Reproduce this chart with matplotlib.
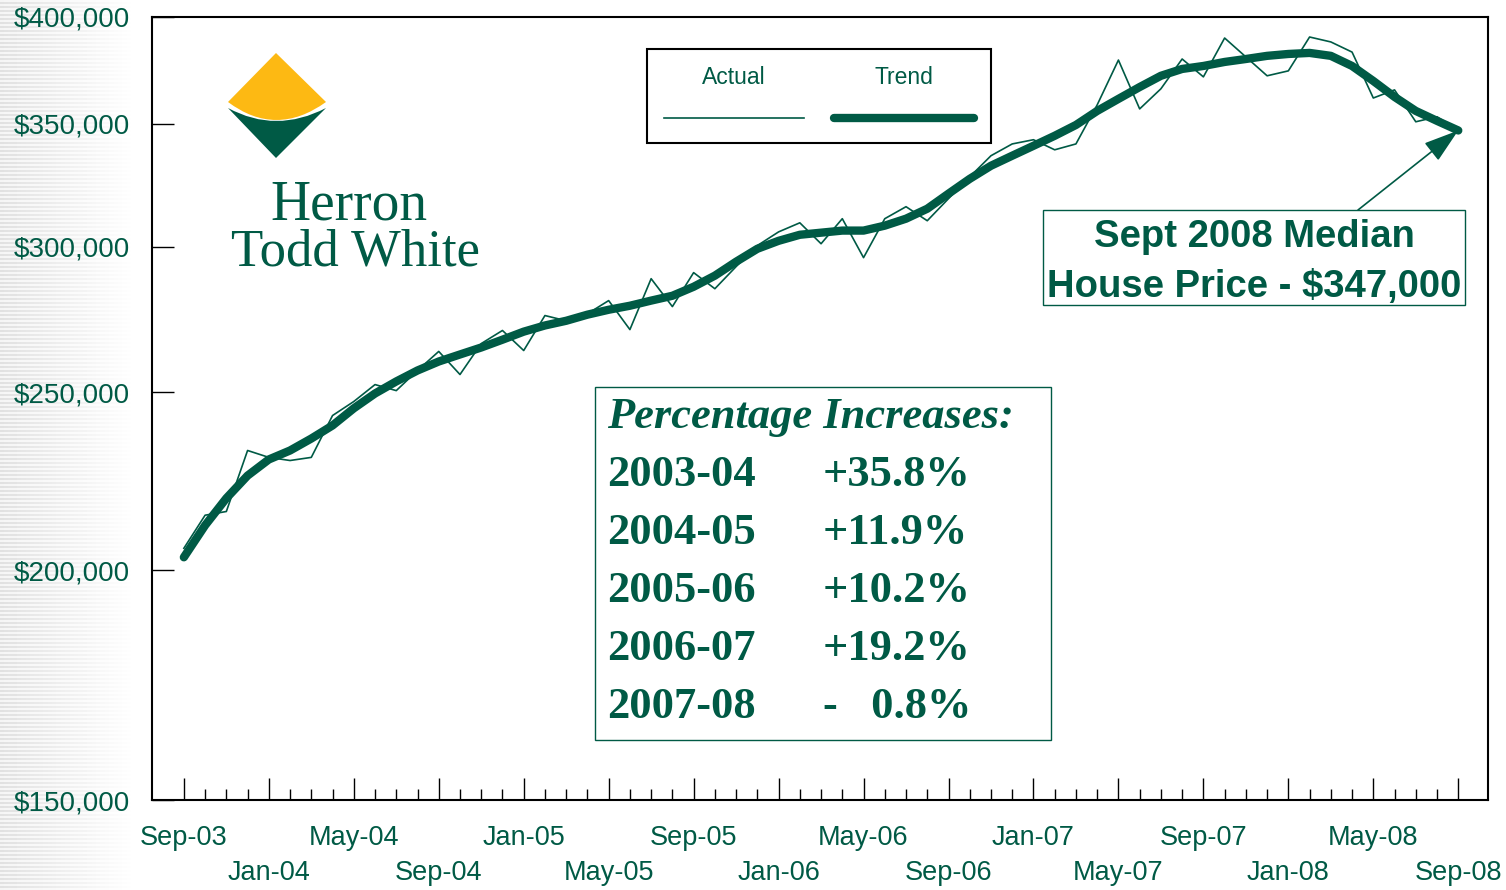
import matplotlib.pyplot as plt
import numpy as np
import pandas as pd
from matplotlib.offsetbox import VPacker
from matplotlib.patches import Rectangle, PathPatch
from matplotlib.path import Path

plt.rcParams["font.family"] = ["Liberation Sans", "DejaVu Sans"]

GREEN = "#005a45"
YELLOW = "#fdb913"

# monthly median house price, Sep-03 .. Sep-08
months = pd.date_range("2003-09-01", periods=61, freq="MS")
actual = [205600, 214300, 215300, 232400, 230400, 229500, 230400, 242800, 247100, 252400,
          250500, 256900, 263100, 255600, 265700, 270100, 263400, 275200, 273400, 275800,
          280400, 270400, 288200, 278300, 290400, 284600, 292600, 300400, 305600, 309100,
          301100, 310700, 295900, 310700, 315400, 309900, 318600, 327400, 336200, 341200,
          343000, 338700, 341200, 358300, 379000, 356500, 365600, 379500, 371100, 389600,
          380500, 371600, 373900, 390100, 387700, 382800, 361400, 365100, 350800, 353000,
          347000]
trend = [203300, 211600, 218900, 225200, 229800, 232400, 235900, 239800, 245000, 249600,
         253400, 256900, 259800, 262100, 264400, 267000, 269700, 271800, 273400, 275500,
         277200, 278600, 280400, 282100, 285300, 289300, 294400, 299200, 302200, 304500,
         305300, 306100, 306100, 308000, 310700, 314600, 320600, 326600, 332000, 336200,
         340400, 344700, 349400, 355600, 361000, 366400, 371600, 374800, 376200, 378100,
         379500, 381000, 381900, 382400, 381000, 376200, 369200, 361900, 355600, 351200,
         347000]
y_ticks = [150000, 200000, 250000, 300000, 350000, 400000]
periods = ["2003-04", "2004-05", "2005-06", "2006-07", "2007-08"]
changes = ["+35.8%", "+11.9%", "+10.2%", "+19.2%", "-   0.8%"]
latest_label = "Sept 2008 Median\nHouse Price - $347,000"

W, H = 1506, 890
fig = plt.figure(figsize=(W / 100, H / 100), dpi=100)

# striped grey background fading out on the left
bg = fig.add_axes([0, 0, 1, 1], zorder=0)
yy = np.arange(H)[:, None]
xx = np.arange(W)[None, :]
fade = np.clip(1 - xx / 135, 0, 1)
img = 1 - fade * (0.04 + 0.08 * ((yy // 2) % 2))
bg.imshow(img, cmap="gray", vmin=0, vmax=1, extent=[0, W, H, 0], aspect="auto",
          interpolation="nearest")
bg.axis("off")

ax = fig.add_axes([152 / W, 1 - 800 / H, (1488 - 152) / W, (800 - 17) / H], zorder=1)
x = np.arange(len(months))
l_act, = ax.plot(x, actual, color=GREEN, lw=1.2, zorder=2)
l_tr, = ax.plot(x, trend, color=GREEN, lw=6, solid_capstyle="round",
                solid_joinstyle="round", zorder=3)

ax.set_yscale("log")
ax.set_ylim(150000, 400000)
ax.set_xlim(-1.5, 61.4)
ax.set_yticks(y_ticks, [f"${v:,}" for v in y_ticks])
ax.yaxis.set_minor_locator(plt.NullLocator())
labs = [m.strftime("%b-%y") for m in months[::4]]
labs = [l if k % 2 == 0 else "\n" + l for k, l in enumerate(labs)]
ax.set_xticks(x[::4], labs)
ax.set_xticks(x, minor=True)
ax.tick_params(axis="x", which="major", direction="in", length=16, width=1, color="black",
               pad=18, labelsize=19.5, labelcolor=GREEN)
ax.tick_params(axis="x", which="minor", direction="in", length=8, width=1, color="black")
ax.tick_params(axis="y", direction="in", length=16, width=1, color="black", pad=16,
               labelsize=20, labelcolor=GREEN)
for t in ax.get_xticklabels():
    t.set_linespacing(1.45)
for s in ax.spines.values():
    s.set_linewidth(1.5)
    s.set_color("black")

# legend: label above line
leg = ax.legend([l_act, l_tr], ["Actual", "Trend"], ncol=2, markerfirst=False,
                loc="upper left", bbox_to_anchor=(0.3705, 0.9591), borderaxespad=0,
                fancybox=False, edgecolor="black", framealpha=1, fontsize=16.5,
                labelcolor=GREEN, handlelength=6.1, columnspacing=1.3, borderpad=0.75)
leg.get_frame().set_linewidth(1.5)
for col in leg._legend_handle_box.get_children():
    for item in col.get_children():
        item.__class__ = VPacker
        item.align = "center"
        item.sep = 15

# overlay in pixel coordinates
ov = fig.add_axes([0, 0, 1, 1], zorder=2)
ov.set_xlim(0, W)
ov.set_ylim(H, 0)
ov.axis("off")

# logo
yellow = Path([(276, 53), (326, 102), (276, 138), (228, 102), (276, 53)],
              [Path.MOVETO, Path.LINETO, Path.CURVE3, Path.CURVE3, Path.CLOSEPOLY])
green = Path([(228, 108), (276, 134), (326, 108), (276, 158), (228, 108)],
             [Path.MOVETO, Path.CURVE3, Path.CURVE3, Path.LINETO, Path.CLOSEPOLY])
ov.add_patch(PathPatch(yellow, fc=YELLOW, ec="none"))
ov.add_patch(PathPatch(green, fc=GREEN, ec="none"))
ov.text(349, 220, "Herron", family="Liberation Serif", size=40, color=GREEN,
        ha="center", va="baseline")
ov.text(356, 265, "Todd White", family="Liberation Serif", size=38, color=GREEN,
        ha="center", va="baseline")

# latest price callout
ov.add_patch(Rectangle((1043, 210), 422, 95, fc="white", ec=GREEN, lw=1))
for k, line in enumerate(latest_label.split("\n")):
    ov.text(1254, 247 + 50 * k, line, size=27.5, weight="bold", color=GREEN,
            ha="center", va="baseline")
ax.annotate("", xy=(x[-1], actual[-1]), xytext=(1358, 210), textcoords=ov.transData,
            arrowprops=dict(arrowstyle="-|>,head_length=1.1,head_width=0.35",
                            mutation_scale=20, color=GREEN, lw=1.2, shrinkA=0, shrinkB=0),
            zorder=6)

# percentage increases table
ov.add_patch(Rectangle((595, 387), 456, 353, fc="white", ec=GREEN, lw=1))
ov.text(607, 428, "Percentage Increases:", family="Liberation Serif", style="italic",
        weight="bold", size=32, color=GREEN, va="baseline")
for k, (p, c) in enumerate(zip(periods, changes)):
    ov.text(607, 486 + 58 * k, p, family="Liberation Serif", weight="bold", size=32,
            color=GREEN, va="baseline")
    ov.text(823, 486 + 58 * k, c, family="Liberation Serif", weight="bold", size=32,
            color=GREEN, va="baseline")

fig.savefig("out.png", dpi=100)
